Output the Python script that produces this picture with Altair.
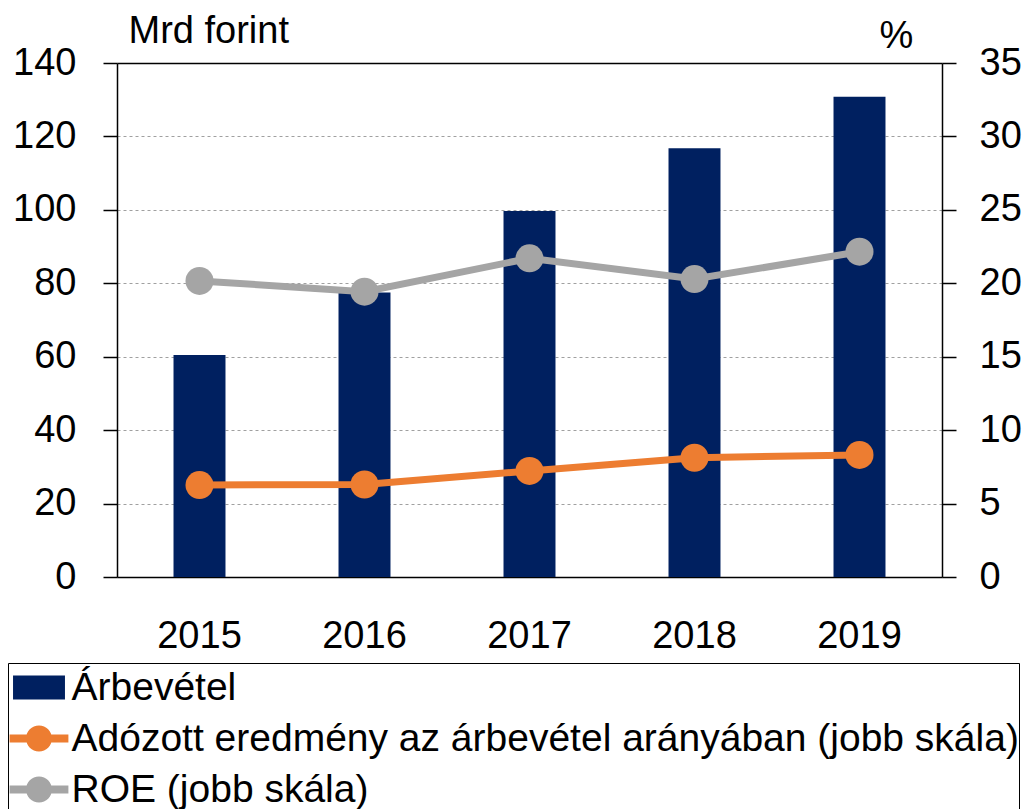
import altair as alt
import pandas as pd

years = ["2015", "2016", "2017", "2018", "2019"]
arbevetel = [60.5, 77.5, 99.7, 116.8, 130.8]
adozott = [6.26, 6.3, 7.22, 8.12, 8.31]
roe = [20.16, 19.43, 21.7, 20.29, 22.15]

s_bar = "Árbevétel"
s_ado = "Adózott eredmény az árbevétel arányában (jobb skála)"
s_roe = "ROE (jobb skála)"
series_names = [s_bar, s_ado, s_roe]
c_bar, c_ado, c_roe = "#002060", "#ED7D31", "#A5A5A5"

left_ticks = [0, 20, 40, 60, 80, 100, 120, 140]
right_ticks = [0, 5, 10, 15, 20, 25, 30, 35]

FONT = "Liberation Sans"
FS = 38

df_bar = pd.DataFrame({"year": years, "value": arbevetel})
df_roe = pd.DataFrame({"year": years, "value": roe})
df_ado = pd.DataFrame({"year": years, "value": adozott})
df_leg = pd.DataFrame({"year": years[:3], "value": [0.0, 0.0, 0.0], "series": series_names})

rect_path = "M-1.06,-0.49L1.06,-0.49L1.06,0.49L-1.06,0.49Z"
line_path = ("M-1.2,-0.163L1.2,-0.163L1.2,0.163L-1.2,0.163Z "
             "M-0.53,0A0.53,0.53 0 1,1 0.53,0A0.53,0.53 0 1,1 -0.53,0Z")

x_enc = alt.X(
    "year:N",
    scale=alt.Scale(paddingInner=0.685, paddingOuter=0.3425),
    axis=alt.Axis(
        title=None, labelAngle=0, labelFontSize=FS, labelFont=FONT, labelColor="black",
        ticks=False, tickSize=0, labelPadding=40, domainColor="black", domainWidth=1.5,
        grid=False,
    ),
)

y_left = alt.Y(
    "value:Q",
    scale=alt.Scale(domain=[0, 140], nice=False),
    axis=alt.Axis(
        orient="left", values=left_ticks, tickSize=14, tickColor="black", tickWidth=1.5,
        domainColor="black", domainWidth=1.5, labelFontSize=FS, labelFont=FONT,
        labelColor="black", labelPadding=27,
        grid=True,
        gridColor={"condition": {"test": "datum.value === 140", "value": "black"}, "value": "#a0a0a0"},
        gridDash={"condition": {"test": "datum.value === 140", "value": []}, "value": [3, 3]},
        gridWidth={"condition": {"test": "datum.value === 140", "value": 1.5}, "value": 1},
        title="Mrd forint", titleAngle=0, titleX=11, titleY=-21, titleAlign="left",
        titleBaseline="alphabetic", titleFontSize=FS, titleFont=FONT,
        titleFontWeight="normal", titleColor="black",
    ),
)

y_right = alt.Y(
    "value:Q",
    scale=alt.Scale(domain=[0, 35], nice=False),
    axis=alt.Axis(
        orient="right", values=right_ticks, tickSize=14, tickColor="black", tickWidth=1.5,
        domainColor="black", domainWidth=1.5, labelFontSize=FS, labelFont=FONT,
        labelColor="black", labelPadding=23, grid=False,
        title="%", titleAngle=0, titleX=-46, titleY=-16, titleAlign="center",
        titleBaseline="alphabetic", titleFontSize=FS, titleFont=FONT,
        titleFontWeight="normal", titleColor="black",
    ),
)

bars = alt.Chart(df_bar).mark_bar(color=c_bar).encode(x=x_enc, y=y_left)

roe_line = alt.Chart(df_roe).mark_line(strokeWidth=7, color=c_roe).encode(x=x_enc, y=y_right)
roe_pts = alt.Chart(df_roe).mark_point(filled=True, size=784, opacity=1, color=c_roe).encode(x=x_enc, y=y_right)
ado_line = alt.Chart(df_ado).mark_line(strokeWidth=7, color=c_ado).encode(x=x_enc, y=y_right)
ado_pts = alt.Chart(df_ado).mark_point(filled=True, size=784, opacity=1, color=c_ado).encode(x=x_enc, y=y_right)

legend = alt.Legend(
    orient="none", legendX=-109, legendY=600, title=None,
    labelFontSize=39, labelFont=FONT, labelColor="black", labelLimit=2000,
    labelOffset=8, symbolOffset=6.5, symbolSize=2401, symbolStrokeWidth=0,
    padding=0, rowPadding=6, strokeColor="black", fillColor="white",
    cornerRadius=0,
)
dummy = alt.Chart(df_leg).transform_filter("false").mark_point(
    filled=True, size=2401, opacity=1
).encode(
    x=x_enc, y=y_right,
    color=alt.Color("series:N", scale=alt.Scale(domain=series_names, range=[c_bar, c_ado, c_roe]),
                    legend=legend),
    shape=alt.Shape("series:N", scale=alt.Scale(domain=series_names,
                                                range=[rect_path, line_path, line_path]),
                    legend=legend),
)

right = alt.layer(roe_line, ado_line, roe_pts, ado_pts, dummy)

chart = alt.layer(bars, right).resolve_scale(y="independent").properties(
    width=825, height=514,
    autosize=alt.AutoSizeParams(type="none"),
    padding={"left": 109, "top": 55, "right": 80, "bottom": 232},
).configure_view(strokeWidth=0).configure(font=FONT)

chart.save("out.html", embed_options={"renderer": "svg", "actions": False})
